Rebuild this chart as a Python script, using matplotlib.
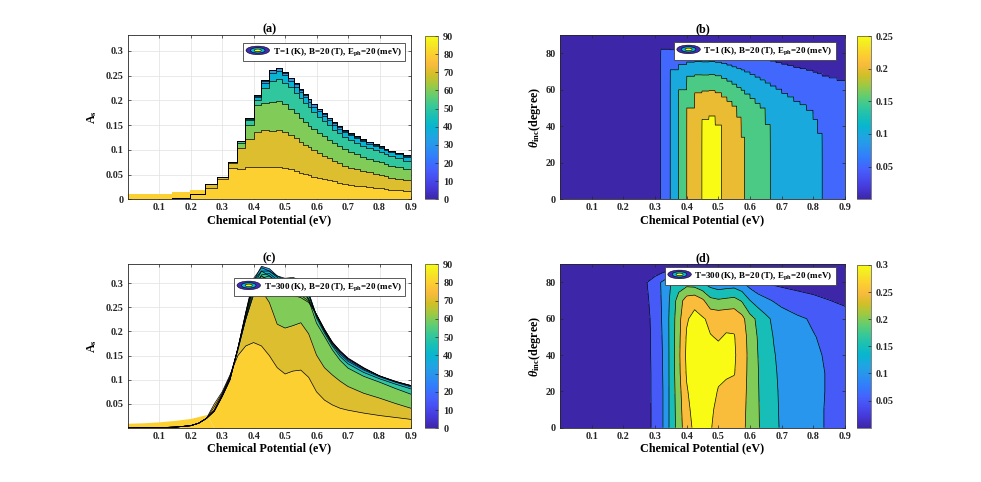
import numpy as np
import matplotlib
matplotlib.use("Agg")
import matplotlib.pyplot as plt
from matplotlib.colors import LinearSegmentedColormap, Normalize
from matplotlib.cm import ScalarMappable
from matplotlib.legend_handler import HandlerBase
from matplotlib.patches import Ellipse
from matplotlib.lines import Line2D

# ------------------------------------------------------------------ data
theta_levels = [0, 10, 20, 30, 40, 50, 60, 70, 80, 90]

# T = 1 K : A_s is piecewise constant in chemical potential (plateaus)
mu_edges_T1 = [0.0, 0.14, 0.198, 0.246, 0.283, 0.318, 0.348, 0.374, 0.400, 0.425,
               0.448, 0.470, 0.490, 0.510, 0.527, 0.543, 0.558, 0.572, 0.583, 0.600,
               0.616, 0.632, 0.648, 0.664, 0.682, 0.700, 0.719, 0.738, 0.758, 0.778,
               0.799, 0.813, 0.828, 0.850, 0.875, 0.900]
As_T1_th00 = [0.0, 0.003, 0.011, 0.030, 0.045, 0.0755, 0.117, 0.164, 0.210, 0.241,
              0.262, 0.266, 0.257, 0.246, 0.234, 0.222, 0.212, 0.203, 0.193, 0.183,
              0.174, 0.165, 0.156, 0.148, 0.140, 0.133, 0.127, 0.121, 0.116, 0.111,
              0.107, 0.1025, 0.098, 0.094, 0.089]
As_T1_th10 = [0.0, 0.003, 0.011, 0.030, 0.045, 0.0755, 0.117, 0.164, 0.210, 0.241,
              0.262, 0.266, 0.257, 0.246, 0.234, 0.222, 0.212, 0.203, 0.193, 0.183,
              0.174, 0.165, 0.156, 0.148, 0.140, 0.133, 0.127, 0.121, 0.116, 0.111,
              0.107, 0.1025, 0.098, 0.094, 0.089]
As_T1_th20 = [0.0, 0.003, 0.011, 0.030, 0.045, 0.0755, 0.117, 0.164, 0.210, 0.241,
              0.262, 0.266, 0.257, 0.246, 0.234, 0.222, 0.212, 0.203, 0.193, 0.183,
              0.174, 0.165, 0.156, 0.148, 0.140, 0.133, 0.127, 0.121, 0.116, 0.111,
              0.107, 0.1025, 0.098, 0.094, 0.089]
As_T1_th30 = [0.0, 0.003, 0.011, 0.030, 0.045, 0.0755, 0.117, 0.164, 0.209, 0.240,
              0.261, 0.265, 0.256, 0.245, 0.233, 0.221, 0.211, 0.202, 0.192, 0.182,
              0.173, 0.164, 0.155, 0.147, 0.139, 0.132, 0.126, 0.120, 0.115, 0.110,
              0.106, 0.1016, 0.097, 0.093, 0.088]
As_T1_th40 = [0.0, 0.003, 0.011, 0.030, 0.045, 0.0755, 0.117, 0.163, 0.206, 0.236,
              0.256, 0.259, 0.251, 0.239, 0.227, 0.216, 0.206, 0.197, 0.187, 0.178,
              0.169, 0.160, 0.151, 0.143, 0.136, 0.129, 0.123, 0.117, 0.112, 0.107,
              0.103, 0.099, 0.095, 0.091, 0.086]
As_T1_th50 = [0.0, 0.003, 0.011, 0.030, 0.045, 0.0755, 0.117, 0.161, 0.200, 0.225,
              0.240, 0.243, 0.236, 0.226, 0.215, 0.204, 0.194, 0.186, 0.176, 0.167,
              0.158, 0.150, 0.141, 0.134, 0.126, 0.120, 0.114, 0.108, 0.104, 0.099,
              0.095, 0.091, 0.087, 0.083, 0.078]
As_T1_th60 = [0.0, 0.003, 0.011, 0.030, 0.045, 0.0755, 0.114, 0.150, 0.190, 0.195,
              0.197, 0.198, 0.193, 0.183, 0.174, 0.165, 0.156, 0.149, 0.142, 0.134,
              0.127, 0.120, 0.113, 0.107, 0.101, 0.095, 0.091, 0.086, 0.082, 0.078,
              0.075, 0.072, 0.068, 0.065, 0.061]
As_T1_th70 = [0.0, 0.003, 0.011, 0.030, 0.045, 0.074, 0.104, 0.121, 0.136, 0.140,
              0.139, 0.140, 0.137, 0.130, 0.123, 0.116, 0.110, 0.105, 0.099, 0.093,
              0.088, 0.083, 0.078, 0.073, 0.068, 0.064, 0.061, 0.057, 0.055, 0.052,
              0.049, 0.047, 0.044, 0.042, 0.039]
As_T1_th80 = [0.0, 0.003, 0.011, 0.022, 0.041, 0.064, 0.062, 0.066, 0.066, 0.066,
              0.065, 0.066, 0.064, 0.062, 0.058, 0.054, 0.052, 0.049, 0.046, 0.043,
              0.041, 0.038, 0.036, 0.033, 0.031, 0.029, 0.027, 0.026, 0.024, 0.023,
              0.022, 0.021, 0.019, 0.018, 0.017]
As_T1_th90 = [0.011, 0.014, 0.019, 0.0, 0.0, 0.0, 0.0, 0.0, 0.0, 0.0,
              0.0, 0.0, 0.0, 0.0, 0.0, 0.0, 0.0, 0.0, 0.0, 0.0,
              0.0, 0.0, 0.0, 0.0, 0.0, 0.0, 0.0, 0.0, 0.0, 0.0,
              0.0, 0.0, 0.0, 0.0, 0.0]

# T = 300 K : smooth curves
mu_T300 = [0.0, 0.05, 0.1, 0.15, 0.2, 0.225, 0.25, 0.275, 0.3, 0.325, 0.35, 0.375,
           0.4, 0.425, 0.45, 0.475, 0.5, 0.525, 0.55, 0.575, 0.6, 0.625, 0.65,
           0.675, 0.7, 0.75, 0.8, 0.85, 0.9]
As_T300_th00 = [0.0, 0.0005, 0.001, 0.002, 0.005, 0.010, 0.020, 0.035, 0.065, 0.100,
                0.165, 0.225, 0.280, 0.310, 0.315, 0.303, 0.285, 0.275, 0.270, 0.260,
                0.235, 0.205, 0.178, 0.160, 0.145, 0.125, 0.108, 0.096, 0.088]
As_T300_th10 = [0.0, 0.0005, 0.001, 0.002, 0.005, 0.010, 0.020, 0.035, 0.065, 0.100,
                0.165, 0.228, 0.287, 0.317, 0.320, 0.307, 0.290, 0.280, 0.275, 0.263,
                0.235, 0.204, 0.178, 0.159, 0.144, 0.124, 0.108, 0.096, 0.088]
As_T300_th20 = [0.0, 0.0005, 0.001, 0.002, 0.005, 0.010, 0.020, 0.035, 0.066, 0.100,
                0.165, 0.232, 0.295, 0.325, 0.325, 0.312, 0.298, 0.290, 0.285, 0.268,
                0.234, 0.203, 0.177, 0.158, 0.143, 0.124, 0.108, 0.097, 0.088]
As_T300_th30 = [0.0, 0.0005, 0.001, 0.002, 0.005, 0.010, 0.020, 0.035, 0.066, 0.101,
                0.165, 0.238, 0.305, 0.335, 0.330, 0.315, 0.306, 0.305, 0.302, 0.275,
                0.233, 0.202, 0.175, 0.156, 0.141, 0.122, 0.108, 0.097, 0.087]
As_T300_th40 = [0.0, 0.0005, 0.001, 0.002, 0.005, 0.010, 0.020, 0.036, 0.067, 0.102,
                0.165, 0.240, 0.310, 0.332, 0.325, 0.315, 0.310, 0.312, 0.305, 0.280,
                0.232, 0.200, 0.173, 0.153, 0.138, 0.120, 0.106, 0.095, 0.085]
As_T300_th50 = [0.0, 0.0005, 0.001, 0.002, 0.005, 0.010, 0.020, 0.036, 0.068, 0.104,
                0.165, 0.238, 0.305, 0.325, 0.315, 0.302, 0.297, 0.303, 0.302, 0.278,
                0.228, 0.197, 0.170, 0.148, 0.133, 0.115, 0.102, 0.091, 0.081]
As_T300_th60 = [0.0, 0.0005, 0.001, 0.002, 0.005, 0.010, 0.020, 0.038, 0.070, 0.106,
                0.165, 0.235, 0.295, 0.315, 0.305, 0.290, 0.287, 0.290, 0.290, 0.265,
                0.217, 0.190, 0.162, 0.140, 0.124, 0.107, 0.095, 0.082, 0.070]
As_T300_th70 = [0.0, 0.0005, 0.001, 0.002, 0.005, 0.010, 0.020, 0.044, 0.072, 0.108,
                0.160, 0.225, 0.275, 0.285, 0.260, 0.215, 0.207, 0.212, 0.218, 0.195,
                0.151, 0.125, 0.110, 0.097, 0.086, 0.072, 0.062, 0.051, 0.041]
As_T300_th80 = [0.0, 0.0005, 0.001, 0.002, 0.005, 0.010, 0.020, 0.050, 0.075, 0.110,
                0.150, 0.170, 0.177, 0.170, 0.150, 0.125, 0.112, 0.118, 0.120, 0.105,
                0.075, 0.058, 0.048, 0.041, 0.037, 0.031, 0.026, 0.022, 0.018]
As_T300_th90 = [0.010, 0.011, 0.013, 0.016, 0.020, 0.024, 0.028, 0.0, 0.0, 0.0,
                0.0, 0.0, 0.0, 0.0, 0.0, 0.0, 0.0, 0.0, 0.0, 0.0,
                0.0, 0.0, 0.0, 0.0, 0.0, 0.0, 0.0, 0.0, 0.0]

# ticks / labels
mu_ticks = [0.1, 0.2, 0.3, 0.4, 0.5, 0.6, 0.7, 0.8, 0.9]
As_ticks_a = [0, 0.05, 0.1, 0.15, 0.2, 0.25, 0.3]
As_ticks_c = [0.05, 0.1, 0.15, 0.2, 0.25, 0.3]
theta_ticks = [0, 20, 40, 60, 80]
cbar_ticks_theta = [0, 10, 20, 30, 40, 50, 60, 70, 80, 90]
levels_b = [0.05, 0.1, 0.15, 0.2, 0.25]
levels_d = [0.05, 0.1, 0.15, 0.2, 0.25, 0.3]
legend_T1 = r'T=1 (K), B=20 (T), E$_{\mathbf{ph}}$=20 (meV)'
legend_T300 = r'T=300 (K), B=20 (T), E$_{\mathbf{ph}}$=20 (meV)'
xlabel = 'Chemical Potential (eV)'
ylabel_As = r'A$_{\mathbf{s}}$'
ylabel_theta = r'$\theta_{\mathbf{inc}}$(degree)'

# ------------------------------------------------------------------ style
plt.rcParams['font.family'] = ['Liberation Serif', 'DejaVu Serif']
plt.rcParams['font.weight'] = 'bold'
plt.rcParams['mathtext.fontset'] = 'custom'
plt.rcParams['mathtext.rm'] = 'Liberation Serif:bold'
plt.rcParams['mathtext.bf'] = 'Liberation Serif:bold'
plt.rcParams['mathtext.it'] = 'Liberation Serif:italic:bold'

_par = [
    (0.2422, 0.1504, 0.6603), (0.2706, 0.2147, 0.8364), (0.2813, 0.3006, 0.9414),
    (0.2699, 0.3892, 0.9906), (0.1963, 0.4847, 0.9892), (0.1687, 0.5703, 0.9359),
    (0.1248, 0.6459, 0.8883), (0.0297, 0.7082, 0.8163), (0.0964, 0.7500, 0.7120),
    (0.2161, 0.7843, 0.5923), (0.3909, 0.8029, 0.4354), (0.6174, 0.7876, 0.2612),
    (0.8203, 0.7498, 0.1535), (0.9728, 0.7298, 0.2394), (0.9892, 0.8136, 0.1885),
    (0.9597, 0.9135, 0.1423), (0.9769, 0.9839, 0.0805)]
_pos = [0, 4, 8, 12, 16, 20, 24, 28, 32, 36, 40, 44, 48, 52, 56, 60, 63]
parula = LinearSegmentedColormap.from_list('parula', [(p / 63.0, c) for p, c in zip(_pos, _par)])

TICK = 7.3
LAB = 8.7
LEG = 6.5

W, H = 981, 482
fig = plt.figure(figsize=(W / 100, H / 100), dpi=100)


def rect(x0, y0, x1, y1):
    return [x0 / W, 1 - y1 / H, (x1 - x0) / W, (y1 - y0) / H]


ax_a = fig.add_axes(rect(127.7, 35, 411, 199.3))
cax_a = fig.add_axes(rect(425, 36, 438.3, 199.3))
ax_b = fig.add_axes(rect(560, 35, 845, 199.3))
cax_b = fig.add_axes(rect(857, 36, 871, 199.3))
ax_c = fig.add_axes(rect(127.7, 264.3, 411, 428.1))
cax_c = fig.add_axes(rect(425, 264.3, 438.3, 428.3))
ax_d = fig.add_axes(rect(560, 264.3, 845, 427.7))
cax_d = fig.add_axes(rect(857, 265, 871, 427.7))


def fmt(v):
    return f'{v:g}'


def style(ax):
    ax.tick_params(direction='in', length=2.5, width=0.5, top=True, right=True,
                   labelsize=TICK, pad=3, colors='0.15')
    for s in ax.spines.values():
        s.set_linewidth(0.6)
        s.set_color('0.15')


class RingHandler(HandlerBase):
    def create_artists(self, legend, orig_handle, xdescent, ydescent, width, height,
                       fontsize, trans):
        cx = -xdescent + width / 2.0
        cy = -ydescent + height / 2.0
        arts = []
        for frac, col in ((1.0, parula(0.02)), (0.62, parula(0.45)), (0.3, parula(1.0))):
            arts.append(Ellipse((cx, cy), width * frac, height * 1.35 * frac,
                                facecolor=col, edgecolor='k', linewidth=0.4,
                                transform=trans))
        return arts


def add_legend(ax, label, anchor):
    proxy = Line2D([], [])
    leg = ax.legend([proxy], [label], handler_map={proxy: RingHandler()},
                    loc='upper right', bbox_to_anchor=anchor, borderaxespad=0,
                    prop={'family': 'Liberation Serif', 'weight': 'bold', 'size': LEG},
                    handlelength=2.6, handletextpad=0.35, borderpad=0.32,
                    fancybox=False, framealpha=1, edgecolor='0.25')
    leg.get_frame().set_linewidth(0.6)
    leg.set_zorder(10)


def line_panel(ax, x, rows, step):
    x = np.asarray(x, dtype=float)
    ys = [np.asarray(r, dtype=float) for r in rows]
    if step:
        ys = [np.append(y, y[-1]) for y in ys]
        kw = dict(step='post')
        ax.fill_between(x, 0, np.min(np.vstack(ys), axis=0), color=parula(80 / 90.0),
                        lw=0, zorder=2, **kw)
    else:
        kw = {}
        xf = np.linspace(x[0], x[-1], 1801)
        lowest = np.min(np.vstack([np.interp(xf, x, y) for y in ys]), axis=0)
        ax.fill_between(xf, 0, lowest, color=parula(80 / 90.0), lw=0, zorder=2)
    for k in range(len(theta_levels) - 1):
        ax.fill_between(x, ys[k], ys[k + 1], color=parula(theta_levels[k] / 90.0),
                        lw=0, zorder=2, **kw)
    for k in range(len(theta_levels) - 1):
        if step:
            ax.step(x, ys[k], where='post', color='k', lw=0.5, zorder=3)
        else:
            ax.plot(x, ys[k], color='k', lw=0.5, zorder=3)
    ax.set_xlim(0, 0.9)
    ax.set_xticks(mu_ticks)
    ax.set_xticklabels([fmt(v) for v in mu_ticks])
    ax.grid(True, color='0.88', lw=0.5)
    ax.set_axisbelow(True)
    ax.set_xlabel(xlabel, fontsize=LAB, fontweight='bold', labelpad=1)
    ax.set_ylabel(ylabel_As, fontsize=LAB, fontweight='bold', labelpad=5)
    style(ax)


def map_panel(ax, x, z, levels, vmax):
    lev = [-1e-3] + list(levels) + [10.0]
    cols = [parula(min(max(l, 0.0) / vmax, 1.0)) for l in lev[:-1]]
    ax.contourf(x, theta_levels, z, levels=lev, colors=cols, zorder=1)
    ax.contour(x, theta_levels, z, levels=levels, colors='k', linewidths=0.5, zorder=2)
    ax.set_xlim(0, 0.9)
    ax.set_ylim(0, 90)
    ax.set_xticks(mu_ticks)
    ax.set_xticklabels([fmt(v) for v in mu_ticks])
    ax.set_yticks(theta_ticks)
    ax.set_yticklabels([fmt(v) for v in theta_ticks])
    ax.set_xlabel(xlabel, fontsize=LAB, fontweight='bold', labelpad=1)
    ax.set_ylabel(ylabel_theta, fontsize=LAB, fontweight='bold', labelpad=2)
    style(ax)


def cbar(cax, vmax, ticks):
    cb = fig.colorbar(ScalarMappable(Normalize(0, vmax), parula), cax=cax, ticks=ticks)
    cb.ax.set_yticklabels([fmt(v) for v in ticks])
    cb.ax.tick_params(labelsize=TICK, direction='in', length=2, width=0.5, colors='0.15')
    cb.outline.set_linewidth(0.5)
    cb.outline.set_edgecolor('0.3')


T1_rows = [As_T1_th00, As_T1_th10, As_T1_th20, As_T1_th30, As_T1_th40,
           As_T1_th50, As_T1_th60, As_T1_th70, As_T1_th80, As_T1_th90]
T300_rows = [As_T300_th00, As_T300_th10, As_T300_th20, As_T300_th30, As_T300_th40,
             As_T300_th50, As_T300_th60, As_T300_th70, As_T300_th80, As_T300_th90]

# (a)
line_panel(ax_a, mu_edges_T1, T1_rows, step=True)
ax_a.set_ylim(0, 0.332)
ax_a.set_yticks(As_ticks_a)
ax_a.set_yticklabels([fmt(v) for v in As_ticks_a])
ax_a.set_title('(a)', fontsize=LAB, fontweight='bold', pad=2)
add_legend(ax_a, legend_T1, (0.979, 0.951))
cbar(cax_a, 90, cbar_ticks_theta)

# (c)
line_panel(ax_c, mu_T300, T300_rows, step=False)
ax_c.set_ylim(0, 0.339)
ax_c.set_yticks(As_ticks_c)
ax_c.set_yticklabels([fmt(v) for v in As_ticks_c])
ax_c.set_title('(c)', fontsize=LAB, fontweight='bold', pad=2)
add_legend(ax_c, legend_T300, (0.979, 0.916))
cbar(cax_c, 90, cbar_ticks_theta)

# (b) : plateau map (each plateau spans its two edges)
e = np.asarray(mu_edges_T1, dtype=float)
xb = np.column_stack([e[:-1] + 4e-4, e[1:] - 4e-4]).ravel()
xb[0], xb[-1] = e[0], e[-1]
zb = np.repeat(np.asarray(T1_rows, dtype=float), 2, axis=1)
map_panel(ax_b, xb, zb, levels_b, 0.25)
ax_b.set_title('(b)', fontsize=LAB, fontweight='bold', pad=2)
add_legend(ax_b, legend_T1, (0.968, 0.957))
cbar(cax_b, 0.25, levels_b)

# (d)
map_panel(ax_d, np.asarray(mu_T300), np.asarray(T300_rows, dtype=float), levels_d, 0.3)
ax_d.set_title('(d)', fontsize=LAB, fontweight='bold', pad=2)
add_legend(ax_d, legend_T300, (0.968, 0.983))
cbar(cax_d, 0.3, levels_d)

fig.savefig('out.png', dpi=100)
